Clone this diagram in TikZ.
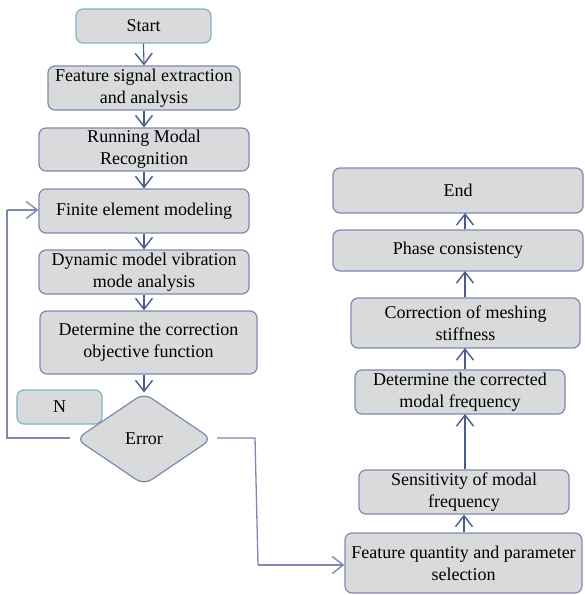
\documentclass[tikz,border=0pt]{standalone}
\usepackage{fontspec}
\setmainfont{Liberation Serif}
\usetikzlibrary{shapes.geometric,arrows.meta}
\definecolor{boxfill}{HTML}{D9DADC}
\definecolor{boxline}{HTML}{7F88B0}
\definecolor{tealline}{HTML}{7DB6C2}
\definecolor{arrowc}{HTML}{4B5A8F}
\begin{document}
\begin{tikzpicture}[x=1pt,y=-1pt,
  box/.style={draw=boxline,fill=boxfill,rounded corners=7pt,line width=1.2pt,align=center,inner sep=0pt,font=\fontsize{18}{22}\selectfont},
  tbox/.style={box,draw=tealline},
  dbox/.style={draw=boxline,fill=boxfill,shape=diamond,rounded corners=9pt,line width=1.2pt,inner sep=0pt,minimum width=136pt,minimum height=92pt,font=\fontsize{18}{22}\selectfont},
  arr/.style={draw=arrowc,line width=1.1pt,-{Straight Barb[length=11pt,width=17pt,line width=1.4pt]}},
  ln/.style={draw=boxline,line width=1.3pt}]
\useasboundingbox (0,0) rectangle (585,595);
% left column
\node[tbox,minimum width=135pt,minimum height=34pt] (start) at (143.5,26) {Start};
\node[box,minimum width=192pt,minimum height=44pt] (feat) at (144,88) {Feature signal extraction\\and analysis};
\node[box,minimum width=210pt,minimum height=43pt] (run) at (144,149.5) {Running Modal\\Recognition};
\node[box,minimum width=210pt,minimum height=44pt] (fem) at (144,211) {Finite element modeling};
\node[box,minimum width=210pt,minimum height=44pt] (dyn) at (144,272) {Dynamic model vibration\\mode analysis};
\node[box,minimum width=217pt,minimum height=63pt] (obj) at (148.5,342.5) {Determine the correction\\objective function};
\node[tbox,minimum width=85pt,minimum height=34pt] (nn) at (59.5,407) {N};
\node[dbox] (err) at (144,439) {Error};
% right column
\node[box,minimum width=250pt,minimum height=45pt] (endn) at (458,190.5) {End};
\node[box,minimum width=250pt,minimum height=41pt] (phase) at (458,250.5) {Phase consistency};
\node[box,minimum width=229pt,minimum height=50pt] (mesh) at (465.5,323) {Correction of meshing\\stiffness};
\node[box,minimum width=210pt,minimum height=44pt] (det) at (460,392) {Determine the corrected\\modal frequency};
\node[box,minimum width=210pt,minimum height=44pt] (sens) at (464,492) {Sensitivity of modal\\frequency};
\node[box,minimum width=237pt,minimum height=60pt] (fq) at (463.5,563) {Feature quantity and parameter\\selection};
% coordinates
\coordinate (eL) at (70,438);
\coordinate (c1) at (7,438);
\coordinate (c2) at (7,210);
\coordinate (eR) at (217,438);
\coordinate (c3) at (255,438);
\coordinate (c4) at (258,565);
% left arrows
\draw[arr] (start.south) -- (feat.north);
\draw[arr] (feat.south) -- (run.north);
\draw[arr] (run.south) -- (fem.north);
\draw[arr] (fem.south) -- (dyn.north);
\draw[arr] (dyn.south) -- (dyn.south |- obj.north);
\draw[arr] (obj.south -| err.north) -- (err.north);
% feedback
\draw[ln] (eL) -- (c1) -- (c2);
\draw[arr,draw=boxline] (c2) -- (c2 -| fem.west);
% to right column
\draw[ln] (eR) -- (c3) -- (c4);
\draw[arr,draw=boxline] (c4) -- (c4 -| fq.west);
% right arrows
\draw[arr] (fq.north -| sens.south) -- (sens.south);
\draw[arr] (sens.north -| 465,0) -- (465,414);
\draw[arr] (det.north -| 465,0) -- (465,348);
\draw[arr] (mesh.north -| 465,0) -- (465,271);
\draw[arr] (phase.north -| 465,0) -- (465,213);
\end{tikzpicture}
\end{document}
